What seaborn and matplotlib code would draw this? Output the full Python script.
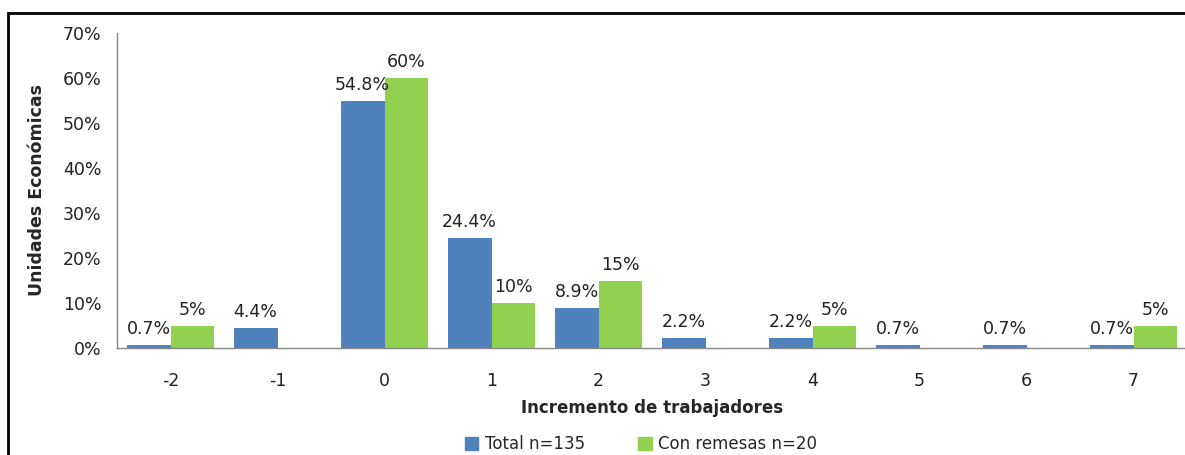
import matplotlib
matplotlib.use("Agg")
import matplotlib.pyplot as plt
import matplotlib.patches as mpatches
import seaborn as sns
import pandas as pd
from matplotlib.ticker import PercentFormatter

categorias = ["-2", "-1", "0", "1", "2", "3", "4", "5", "6", "7"]
total = [0.7, 4.4, 54.8, 24.4, 8.9, 2.2, 2.2, 0.7, 0.7, 0.7]
remesas = [5, 0, 60, 10, 15, 0, 5, 0, 0, 5]
series = ["Total n=135", "Con remesas n=20"]
colores = ["#4F81BD", "#92D050"]

df = pd.DataFrame({
    "incremento": categorias * 2,
    "valor": total + remesas,
    "serie": [series[0]] * len(categorias) + [series[1]] * len(categorias),
})

sns.set_style("white")
plt.rcParams["font.family"] = ["DejaVu Sans"]

fig = plt.figure(figsize=(11.85, 4.55), dpi=100)
ax = fig.add_axes([117 / 1185, 107 / 455, 1070 / 1185, 315 / 455])

sns.barplot(data=df, x="incremento", y="valor", hue="serie", order=categorias,
            hue_order=series, palette=colores, width=0.82, saturation=1,
            linewidth=0, ax=ax, legend=False)

for cont, vals in zip(ax.containers, [total, remesas]):
    labels = [(f"{v:g}%" if v > 0 else "") for v in vals]
    ax.bar_label(cont, labels=labels, padding=5, fontsize=12.5, color="#222222")

ax.set_ylim(0, 70)
ax.set_xlim(-0.5, 9.5)
ax.set_yticks(range(0, 71, 10))
ax.yaxis.set_major_formatter(PercentFormatter(decimals=0))
ax.tick_params(axis="y", length=5, color="#888888", labelsize=12.5, labelcolor="#222222", pad=6)
ax.tick_params(axis="x", length=0, labelsize=12.5, labelcolor="#222222", pad=17)
for s in ["top", "right"]:
    ax.spines[s].set_visible(False)
for s in ["left", "bottom"]:
    ax.spines[s].set_color("#888888")
    ax.spines[s].set_linewidth(1)

ax.set_xlabel("Incremento de trabajadores", fontsize=12, fontweight="bold", labelpad=7)
ax.set_ylabel("Unidades Económicas", fontsize=12.5, fontweight="bold", labelpad=12)

# legend sits at the bottom edge, as in the original
handles = [mpatches.Patch(color=c, label=s) for c, s in zip(colores, series)]
fig.legend(handles=handles, loc="center", bbox_to_anchor=(0.541, 11 / 455), ncol=2,
           frameon=False, fontsize=12, handlelength=0.8, handleheight=0.8,
           columnspacing=3.2, handletextpad=0.4, borderpad=0.1)

fig.patches.append(mpatches.Rectangle((8 / 1185, -0.1), 1.2, (455 - 13) / 455 + 0.1,
                                      transform=fig.transFigure, fill=False,
                                      edgecolor="black", linewidth=2))

fig.savefig("out.png", dpi=100)
